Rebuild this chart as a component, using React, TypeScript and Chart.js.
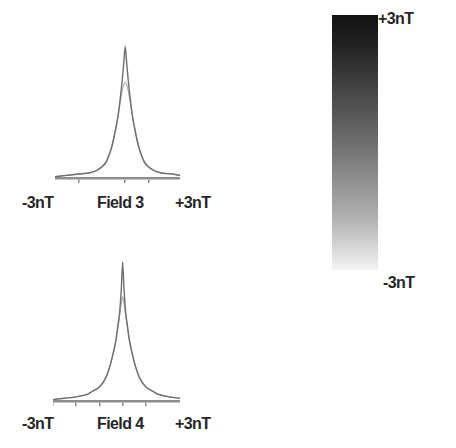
import React, { useEffect, useRef } from "react";
import { Chart, registerables } from "chart.js";

Chart.register(...registerables);

// Field 3 distribution (x in nT, y in relative counts)
const field3X = [-3, -2.5, -2, -1.5, -1.2, -0.85, -0.6, -0.43, -0.3, -0.21, -0.13, -0.06, 0, 0.06, 0.13, 0.21, 0.3, 0.43, 0.6, 0.85, 1.2, 1.5, 2, 2.34];
const field3Y = [1, 2, 3, 4, 6, 11, 22, 35, 48, 61, 74, 88, 100, 88, 74, 61, 48, 35, 22, 11, 6, 4, 3, 2];
const field3FitY = [1, 2, 3, 4, 6, 12, 23, 36, 48, 58, 66, 71, 73, 71, 66, 58, 48, 36, 23, 12, 6, 4, 3, 2];
const field3Ticks = [-2, 0, 1];

// Field 4 distribution
const field4X = [-3, -2.5, -2, -1.5, -1.3, -1.0, -0.72, -0.5, -0.3, -0.2, -0.14, -0.06, 0, 0.06, 0.14, 0.2, 0.3, 0.5, 0.72, 1.0, 1.3, 1.5, 2, 2.47];
const field4Y = [1, 2, 3, 5, 7, 10, 17, 28, 43, 55, 62, 80, 100, 80, 62, 55, 43, 28, 17, 10, 7, 5, 3, 2];
const field4FitY = [1, 2, 3, 5, 7, 10, 17, 28, 42, 53, 60, 70, 75, 70, 60, 53, 42, 28, 17, 10, 7, 5, 3, 2];
const field4Ticks = [-3, -2, -1, 0, 1];

// Colour scale
const scaleCategories = ["field"];
const scaleRange: [number, number] = [-3, 3];
const scaleLabels = ["+3nT", "-3nT"];

type PeakProps = {
  xs: number[];
  ys: number[];
  fit: number[];
  ticks: number[];
  xMin: number;
  xMax: number;
  style: React.CSSProperties;
};

function PeakChart({ xs, ys, fit, ticks, xMin, xMax, style }: PeakProps) {
  const ref = useRef<HTMLCanvasElement>(null);
  useEffect(() => {
    if (!ref.current) return;
    const chart = new Chart(ref.current, {
      type: "line",
      data: {
        datasets: [
          {
            data: xs.map((x, i) => ({ x, y: ys[i] })),
            borderColor: "#6f6f6f",
            borderWidth: 1.4,
            pointRadius: 0,
            tension: 0.25,
            fill: false,
          },
          {
            data: xs.map((x, i) => ({ x, y: fit[i] })),
            borderColor: "#a8a8a8",
            borderWidth: 1.1,
            pointRadius: 0,
            tension: 0.35,
            fill: false,
          },
        ],
      },
      options: {
        animation: false,
        responsive: false,
        maintainAspectRatio: false,
        layout: { padding: 0 },
        plugins: { legend: { display: false }, tooltip: { enabled: false } },
        scales: {
          x: {
            type: "linear",
            min: xMin,
            max: xMax,
            afterBuildTicks: (axis: any) => {
              axis.ticks = ticks.map((v) => ({ value: v }));
            },
            ticks: { display: false },
            grid: {
              drawOnChartArea: false,
              drawTicks: true,
              tickLength: 5,
              color: "#8a8a8a",
              lineWidth: 1.5,
            },
            border: { display: true, color: "#8e8e8e", width: 2.5 },
          },
          y: { display: false, min: 0, max: 105 },
        },
      },
    });
    return () => chart.destroy();
  }, []);
  return <canvas ref={ref} style={{ position: "absolute", ...style }} width={style.width as number} height={style.height as number} />;
}

function ColorBar({ style }: { style: React.CSSProperties }) {
  const ref = useRef<HTMLCanvasElement>(null);
  useEffect(() => {
    if (!ref.current) return;
    const chart = new Chart(ref.current, {
      type: "bar",
      data: {
        labels: scaleCategories,
        datasets: [
          {
            data: [scaleRange],
            barPercentage: 1,
            categoryPercentage: 1,
            borderWidth: 0,
            backgroundColor: (ctx: any) => {
              const area = ctx.chart.chartArea;
              if (!area) return "#777";
              const g = ctx.chart.ctx.createLinearGradient(0, area.top, 0, area.bottom);
              g.addColorStop(0, "#131313");
              g.addColorStop(0.1, "#1f1f1f");
              g.addColorStop(0.5, "#6e6e6e");
              g.addColorStop(0.8, "#b2b2b2");
              g.addColorStop(1, "#f4f4f4");
              return g;
            },
          },
        ],
      },
      options: {
        animation: false,
        responsive: false,
        maintainAspectRatio: false,
        layout: { padding: 0 },
        plugins: { legend: { display: false }, tooltip: { enabled: false } },
        scales: {
          x: { display: false },
          y: { display: false, min: scaleRange[0], max: scaleRange[1] },
        },
      },
    });
    return () => chart.destroy();
  }, []);
  return <canvas ref={ref} style={{ position: "absolute", ...style }} width={style.width as number} height={style.height as number} />;
}

const labelStyle: React.CSSProperties = {
  position: "absolute",
  fontFamily: "'Liberation Sans', Arial, sans-serif",
  fontSize: 16,
  fontWeight: "bold",
  color: "#262626",
  lineHeight: "16px",
  whiteSpace: "nowrap",
  letterSpacing: "-0.6px",
};

export default function App() {
  return (
    <div style={{ position: "absolute", left: 0, top: 0, width: 456, height: 448, background: "#fff", overflow: "hidden" }}>
      <PeakChart xs={field3X} ys={field3Y} fit={field3FitY} ticks={field3Ticks} xMin={-3} xMax={2.34}
        style={{ left: 55, top: 40, width: 125, height: 143 }} />
      <div style={{ ...labelStyle, left: 22, top: 195 }}>-3nT</div>
      <div style={{ ...labelStyle, left: 97, top: 195 }}>Field 3</div>
      <div style={{ ...labelStyle, left: 175, top: 195 }}>+3nT</div>

      <PeakChart xs={field4X} ys={field4Y} fit={field4FitY} ticks={field4Ticks} xMin={-3} xMax={2.47}
        style={{ left: 53, top: 255, width: 127, height: 151 }} />
      <div style={{ ...labelStyle, left: 22, top: 416 }}>-3nT</div>
      <div style={{ ...labelStyle, left: 97, top: 416 }}>Field 4</div>
      <div style={{ ...labelStyle, left: 175, top: 416 }}>+3nT</div>

      <ColorBar style={{ left: 332, top: 15, width: 46, height: 255 }} />
      <div style={{ ...labelStyle, left: 378, top: 11 }}>{scaleLabels[0]}</div>
      <div style={{ ...labelStyle, left: 383, top: 275 }}>{scaleLabels[1]}</div>
    </div>
  );
}
